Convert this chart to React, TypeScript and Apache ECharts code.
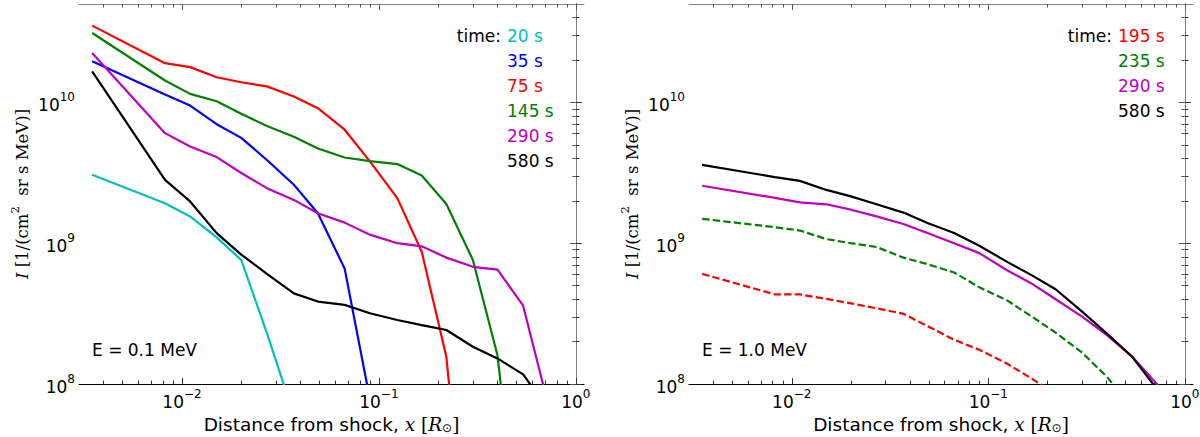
import { useEffect, useRef } from 'react';
import * as echarts from 'echarts';

// distances from the shock (R_sun), shared by every curve
const xPoints = [0.0035, 0.0082, 0.011, 0.015, 0.020, 0.027, 0.037, 0.049, 0.067, 0.090, 0.124, 0.165, 0.22, 0.30, 0.40, 0.54, 0.73];

const xMin = 0.003;
const xMax = 1.1;
const yMin = 1e8;
const yMax = 5e10;
const xMajor = [1e-2, 1e-1, 1];
const yMajor = [1e8, 1e9, 1e10];

// E = 0.1 MeV
const leftTimes = ['20 s', '35 s', '75 s', '145 s', '290 s', '580 s'];
const leftColors = ['#00bfbf', '#0000ff', '#ff0000', '#008000', '#bf00bf', '#000000'];
const left20 = [3.06e9, 1.92e9, 1.55e9, 1.1e9, 7.6e8, 2.3e8, 6e7];
const left35 = [1.96e10, 1.14e10, 9.5e9, 7.0e9, 5.6e9, 3.9e9, 2.6e9, 1.63e9, 6.6e8, 7.8e7];
const left75 = [3.51e10, 1.9e10, 1.78e10, 1.51e10, 1.39e10, 1.3e10, 1.1e10, 9.1e9, 6.4e9, 3.81e9, 2.09e9, 8.7e8, 1.56e8, 2e6];
const left145 = [3.11e10, 1.43e10, 1.15e10, 1.02e10, 8.3e9, 6.8e9, 5.7e9, 4.7e9, 4.06e9, 3.83e9, 3.65e9, 3.03e9, 1.9e9, 7.6e8, 1.6e8, 4e6];
const left290 = [2.24e10, 6.05e9, 4.87e9, 4.09e9, 3.15e9, 2.46e9, 2.03e9, 1.63e9, 1.4e9, 1.15e9, 1.0e9, 9.5e8, 7.9e8, 6.8e8, 6.5e8, 3.6e8, 6.8e7];
const left580 = [1.66e10, 2.82e9, 1.98e9, 1.18e9, 8.3e8, 6.05e8, 4.4e8, 3.85e8, 3.65e8, 3.18e8, 2.85e8, 2.62e8, 2.42e8, 1.84e8, 1.52e8, 1.17e8, 6.5e7];

// E = 1.0 MeV
const rightTimes = ['195 s', '235 s', '290 s', '580 s'];
const rightColors = ['#ff0000', '#008000', '#bf00bf', '#000000'];
const rightDashed = [true, true, false, false];
const right195 = [6.05e8, 4.33e8, 4.33e8, 4.02e8, 3.74e8, 3.45e8, 3.15e8, 2.58e8, 2.06e8, 1.75e8, 1.4e8, 1.1e8, 8.5e7];
const right235 = [1.49e9, 1.3e9, 1.23e9, 1.07e9, 1.0e9, 9.4e8, 7.9e8, 7.1e8, 6.2e8, 4.86e8, 3.94e8, 3.04e8, 2.32e8, 1.67e8, 1.13e8, 6.8e7];
const right290 = [2.56e9, 2.1e9, 1.95e9, 1.89e9, 1.73e9, 1.55e9, 1.37e9, 1.18e9, 1.0e9, 8.5e8, 6.45e8, 5.2e8, 4.0e8, 3.01e8, 2.23e8, 1.56e8, 9.8e7];
const right580 = [3.6e9, 2.95e9, 2.77e9, 2.39e9, 2.15e9, 1.89e9, 1.65e9, 1.39e9, 1.18e9, 9.6e8, 7.4e8, 5.96e8, 4.71e8, 3.27e8, 2.29e8, 1.56e8, 9e7];

const lg = Math.log10;
const SANS = 'DejaVu Sans';
const SERIF = 'DejaVu Serif';

const minorTicks = (lo: number, hi: number) => {
    const out: number[] = [];
    for (let n = Math.floor(lo) - 1; n <= Math.ceil(hi); n++) {
        for (let k = 2; k <= 9; k++) {
            const v = n + lg(k);
            if (v > lo + 1e-6 && v < hi - 1e-6) out.push(v);
        }
    }
    return out;
};

const expLabel = (v: number) => {
    const n = Math.round(v);
    return `{b|10}{s|${n < 0 ? '−' + -n : n}}`;
};

const tickRich = {
    b: { fontSize: 17, fontFamily: SANS, color: '#000', verticalAlign: 'bottom', lineHeight: 22 },
    s: { fontSize: 12, fontFamily: SANS, color: '#000', verticalAlign: 'top', lineHeight: 12 }
};

const xName = '{a|Distance from shock, }{m|x}{n| [}{m|R}{sub|⊙}{n|]}';
const xNameStyle = {
    rich: {
        a: { fontSize: 18.5, fontFamily: SANS, color: '#000', lineHeight: 20 },
        m: { fontSize: 18.5, fontFamily: SERIF, fontStyle: 'italic', color: '#000', lineHeight: 20 },
        n: { fontSize: 18.5, fontFamily: SERIF, color: '#000', lineHeight: 20 },
        sub: { fontSize: 12, fontFamily: SANS, color: '#000', lineHeight: 10, verticalAlign: 'bottom' }
    }
};
const yName = '{m|I}{n| [1/(cm}{sup|2}{n|  sr s MeV)]}';
const yNameStyle = {
    rich: {
        m: { fontSize: 16.5, fontFamily: SERIF, fontStyle: 'italic', color: '#000', lineHeight: 22, verticalAlign: 'bottom' },
        n: { fontSize: 16.5, fontFamily: SERIF, color: '#000', lineHeight: 22, verticalAlign: 'bottom' },
        sup: { fontSize: 11.5, fontFamily: SERIF, color: '#000', lineHeight: 11, verticalAlign: 'top' }
    }
};

const xAxesFor = (g: number) => {
    const lo = lg(xMin);
    const hi = lg(xMax);
    const base = { gridIndex: g, type: 'value', min: lo, max: hi, splitLine: { show: false } };
    return [
        {
            ...base, position: 'bottom',
            axisLine: { lineStyle: { color: '#000', width: 1 } },
            axisTick: { inside: true, length: 6, customValues: xMajor.map(lg), lineStyle: { color: '#333' } },
            axisLabel: { customValues: xMajor.map(lg), formatter: expLabel, rich: tickRich, margin: 4 },
            name: xName, nameLocation: 'middle', nameGap: 27, nameTextStyle: xNameStyle
        },
        {
            ...base, position: 'bottom',
            axisLine: { show: false },
            axisTick: { inside: true, length: 3.5, customValues: minorTicks(lo, hi), lineStyle: { color: '#333' } },
            axisLabel: { show: false }
        },
        {
            ...base, position: 'top',
            axisLine: { lineStyle: { color: '#808080', width: 1 } },
            axisTick: { inside: true, length: 6, customValues: xMajor.map(lg), lineStyle: { color: '#555' } },
            axisLabel: { show: false }
        },
        {
            ...base, position: 'top',
            axisLine: { show: false },
            axisTick: { inside: true, length: 3.5, customValues: minorTicks(lo, hi), lineStyle: { color: '#555' } },
            axisLabel: { show: false }
        }
    ];
};

const yAxesFor = (g: number) => {
    const lo = lg(yMin);
    const hi = lg(yMax);
    const base = { gridIndex: g, type: 'value', min: lo, max: hi, splitLine: { show: false } };
    return [
        {
            ...base, position: 'left',
            axisLine: { lineStyle: { color: '#000', width: 1 } },
            axisTick: { inside: true, length: 6, customValues: yMajor.map(lg), lineStyle: { color: '#333' } },
            axisLabel: { customValues: yMajor.map(lg), formatter: expLabel, rich: tickRich, margin: 4 },
            name: yName, nameLocation: 'middle', nameRotate: 90, nameGap: 48, nameTextStyle: yNameStyle
        },
        {
            ...base, position: 'left',
            axisLine: { show: false },
            axisTick: { inside: true, length: 3.5, customValues: minorTicks(lo, hi), lineStyle: { color: '#333' } },
            axisLabel: { show: false }
        },
        {
            ...base, position: 'right',
            axisLine: { lineStyle: { color: '#808080', width: 1 } },
            axisTick: { inside: true, length: 6, customValues: yMajor.map(lg), lineStyle: { color: '#555' } },
            axisLabel: { show: false }
        },
        {
            ...base, position: 'right',
            axisLine: { show: false },
            axisTick: { inside: true, length: 3.5, customValues: minorTicks(lo, hi), lineStyle: { color: '#555' } },
            axisLabel: { show: false }
        }
    ];
};

const mkLine = (name: string, ys: number[], color: string, g: number, dashed: boolean) => ({
    type: 'line',
    name,
    xAxisIndex: g * 4,
    yAxisIndex: g * 4,
    symbol: 'none',
    clip: true,
    lineStyle: { color, width: 2.2, type: dashed ? [7.4, 3.2] : 'solid' },
    data: ys.map((y, i) => [lg(xPoints[i]), lg(y)])
});

const legendTexts = (times: string[], colors: string[], xSplit: number) => {
    const items: any[] = [
        {
            type: 'text', x: xSplit - 6, y: 36,
            style: { text: 'time:', fill: '#000', fontSize: 17, fontFamily: SANS, align: 'right', verticalAlign: 'middle' }
        }
    ];
    times.forEach((t, i) => {
        items.push({
            type: 'text', x: xSplit, y: 36 + i * 24.9,
            style: { text: t, fill: colors[i], fontSize: 17, fontFamily: SANS, align: 'left', verticalAlign: 'middle' }
        });
    });
    return items;
};

const App = () => {
    const chartRef = useRef<HTMLDivElement | null>(null);

    useEffect(() => {
        if (!chartRef.current) return;
        const chart = echarts.init(chartRef.current, null, { renderer: 'svg' });
        const leftSeries = [left20, left35, left75, left145, left290, left580];
        const rightSeries = [right195, right235, right290, right580];
        const option = {
            animation: false,
            backgroundColor: '#fff',
            grid: [
                { left: 79, top: 4, width: 505, height: 380, outerBoundsMode: 'none' },
                { left: 689, top: 4, width: 504, height: 380, outerBoundsMode: 'none' }
            ],
            xAxis: [...xAxesFor(0), ...xAxesFor(1)],
            yAxis: [...yAxesFor(0), ...yAxesFor(1)],
            series: [
                ...leftSeries.map((ys, i) => mkLine('E=0.1 ' + leftTimes[i], ys, leftColors[i], 0, false)),
                ...rightSeries.map((ys, i) => mkLine('E=1.0 ' + rightTimes[i], ys, rightColors[i], 1, rightDashed[i]))
            ],
            graphic: [
                ...legendTexts(leftTimes, leftColors, 507),
                ...legendTexts(rightTimes, rightColors, 1118),
                {
                    type: 'text', x: 92, y: 350,
                    style: { text: 'E = 0.1 MeV', fill: '#000', fontSize: 17, fontFamily: SANS, align: 'left', verticalAlign: 'middle' }
                },
                {
                    type: 'text', x: 702, y: 350,
                    style: { text: 'E = 1.0 MeV', fill: '#000', fontSize: 17, fontFamily: SANS, align: 'left', verticalAlign: 'middle' }
                }
            ]
        };
        chart.setOption(option as any);
        return () => chart.dispose();
    }, []);

    return (
        <div
            ref={chartRef}
            style={{ position: 'absolute', left: 0, top: 0, width: 1200, height: 437, background: '#fff' }}
        />
    );
};

export default App;
